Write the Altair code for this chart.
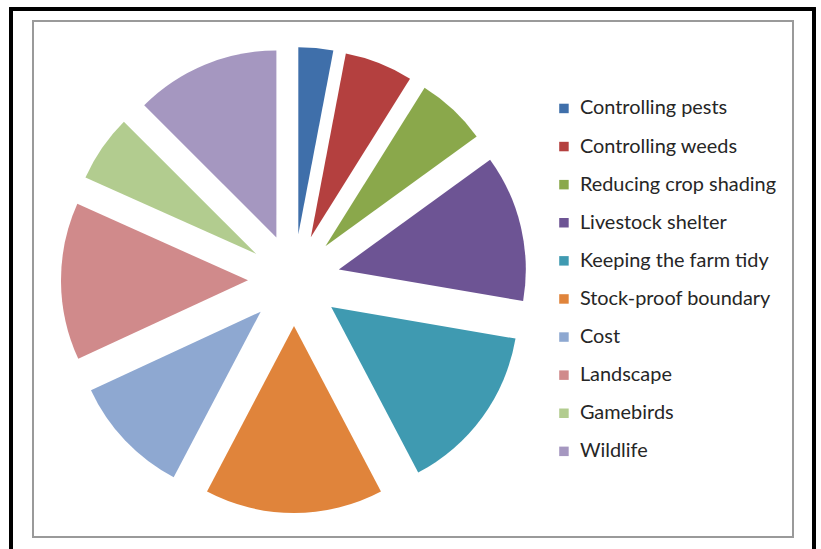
import altair as alt
import pandas as pd

categories = ["Controlling pests", "Controlling weeds", "Reducing crop shading",
              "Livestock shelter", "Keeping the farm tidy", "Stock-proof boundary",
              "Cost", "Landscape", "Gamebirds", "Wildlife"]
values = [3.0, 5.9, 6.1, 12.7, 14.6, 15.4, 10.4, 13.6, 5.8, 12.5]
colors = ["#3f6faa", "#b4403f", "#8aa84b", "#6d5494", "#3f9ab1", "#e0843b",
          "#8ea8d1", "#d08a8b", "#b2cc8f", "#a597c0"]

df = pd.DataFrame({"idx": list(range(len(categories))), "category": categories, "value": values})

CX, CY, OFF, R = 294, 280, 46, 187

pie = alt.Chart(df).transform_window(
    cum="sum(value)", sort=[alt.SortField("idx")], frame=[None, 0]
).transform_joinaggregate(
    total="sum(value)"
).transform_calculate(
    t1="(datum.cum - datum.value) / datum.total * 2 * PI"
).transform_calculate(
    t2="datum.cum / datum.total * 2 * PI"
).transform_calculate(
    mid="(datum.t1 + datum.t2) / 2"
).transform_calculate(
    px=f"{CX} + {OFF} * sin(datum.mid)"
).transform_calculate(
    py=f"{CY} - {OFF} * cos(datum.mid)"
).mark_arc(outerRadius=R, stroke=None).encode(
    theta=alt.Theta("t1:Q", scale=None),
    theta2="t2:Q",
    x=alt.X("px:Q", scale=None),
    y=alt.Y("py:Q", scale=None),
    color=alt.Color("category:N", sort=categories,
                    scale=alt.Scale(domain=categories, range=colors),
                    legend=alt.Legend(title=None, orient="none", legendX=554, legendY=98.5,
                                      symbolType="square", symbolSize=90, symbolStrokeWidth=0,
                                      labelFont="Lato", labelFontSize=19.9, labelColor="#262626",
                                      labelOffset=6, rowPadding=17.1, labelLimit=300)),
    order=alt.Order("idx:Q"),
)

outer = alt.Chart(df).mark_rect(fill=None, stroke="#000000", strokeWidth=3).encode(
    x=alt.value(11), x2=alt.value(814), y=alt.value(9), y2=alt.value(570))
inner = alt.Chart(df).mark_rect(fill=None, stroke="#9a9a9a", strokeWidth=2).encode(
    x=alt.value(33), x2=alt.value(793), y=alt.value(21), y2=alt.value(537))

chart = alt.layer(outer, inner, pie).properties(
    width=821, height=549, padding=0, autosize=alt.AutoSizeParams(type="none"),
    background="white"
).configure_view(stroke=None)

chart.save("out.html", embed_options={"renderer": "svg", "actions": False})
